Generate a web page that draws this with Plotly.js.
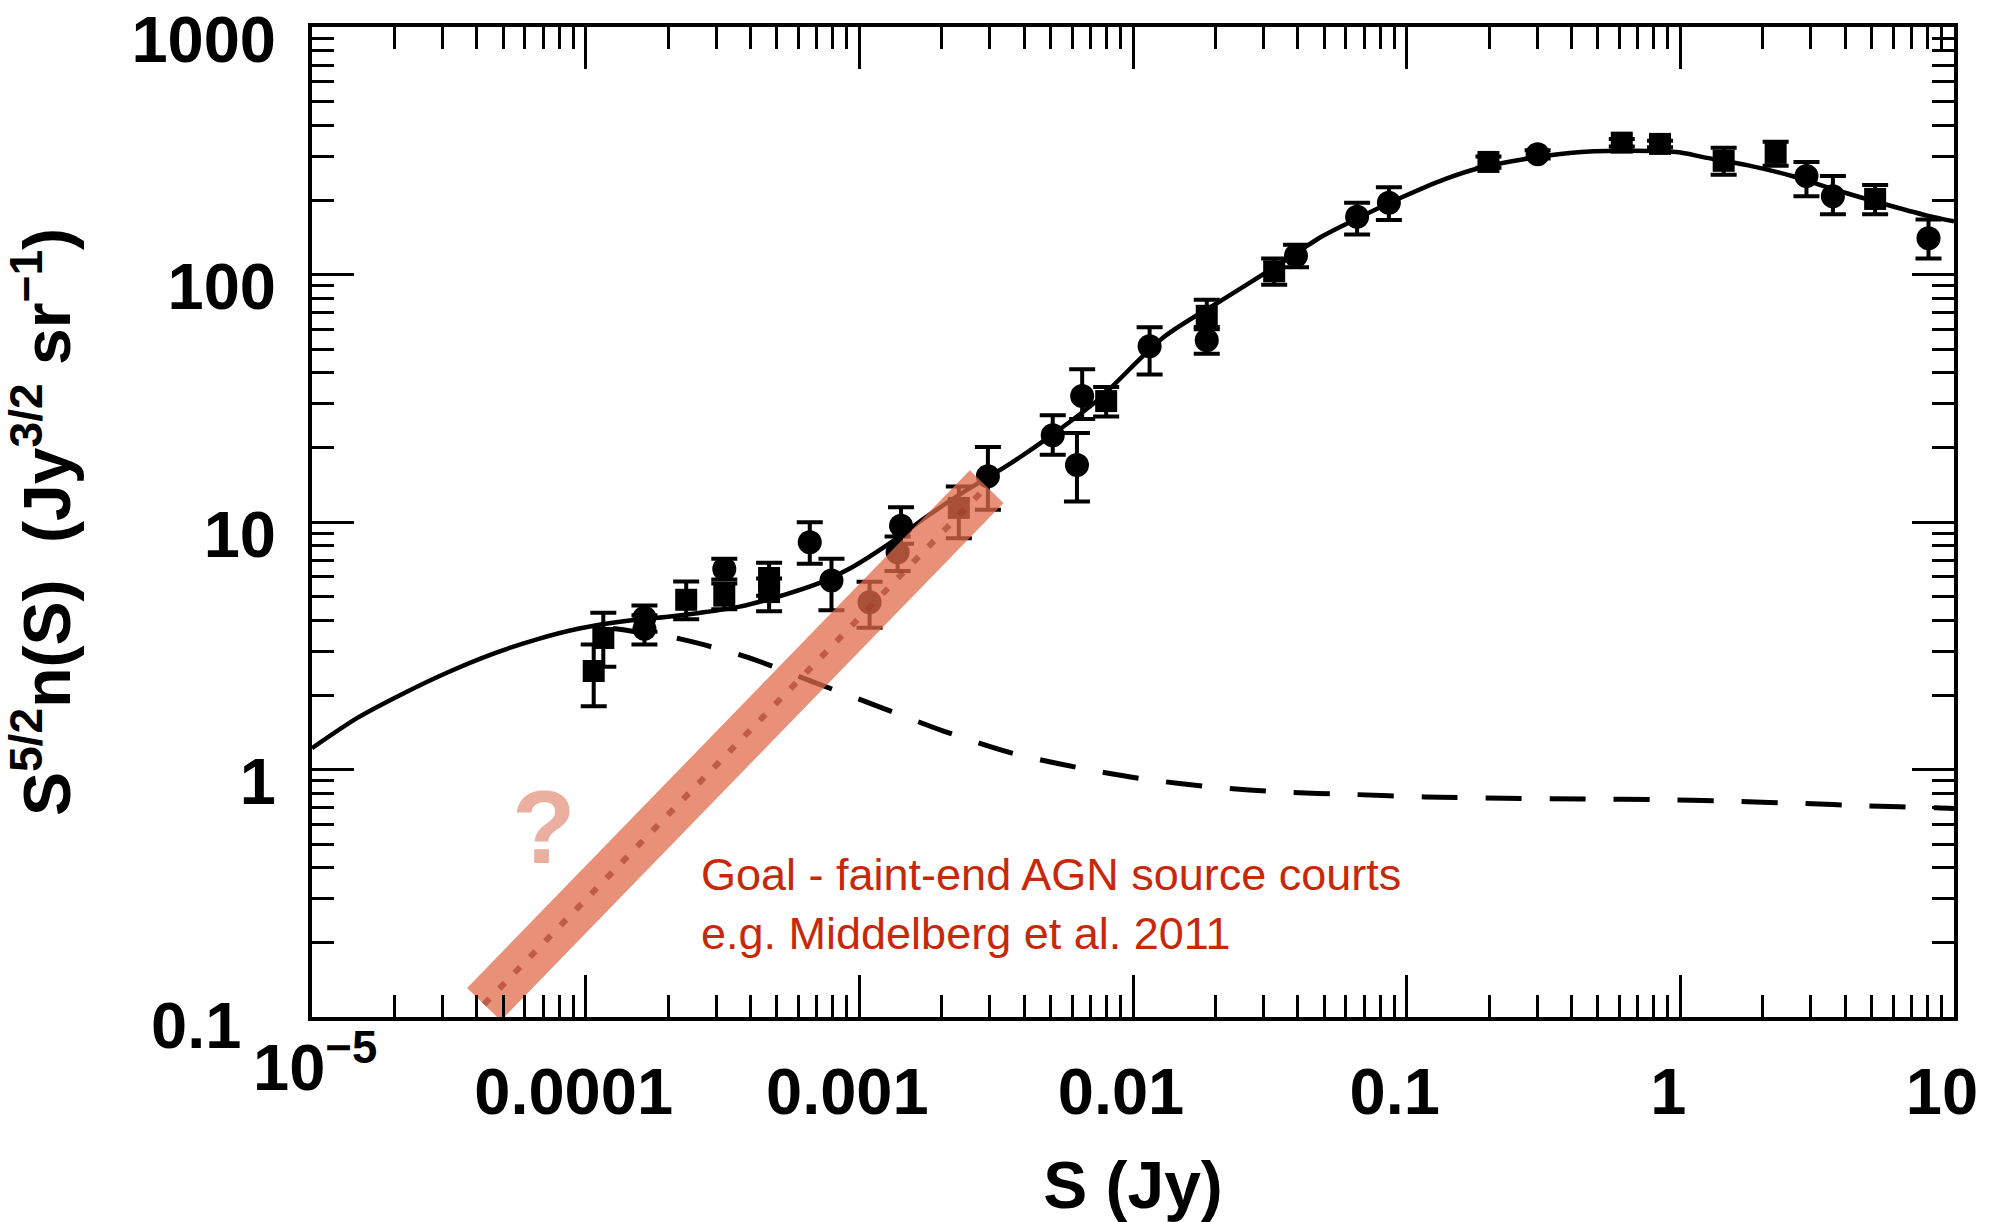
<!DOCTYPE html>
<html>
<head>
<meta charset="utf-8">
<script src="https://cdn.plot.ly/plotly-3.0.1.min.js"></script>
<style>
  html, body { margin:0; padding:0; background:#fff; }
  #chart { width:1994px; height:1222px; }
</style>
</head>
<body>
<div id="chart"></div>
<script>
// ---- Data (S in Jy, S^{5/2} n(S) in Jy^{3/2} sr^-1) ----
// Data points drawn as squares
const sqS    = [1.07e-4, 1.16e-4, 2.33e-4, 3.21e-4, 4.68e-4, 4.68e-4, 2.31e-3, 7.98e-3, 1.86e-2, 3.28e-2, 0.199, 0.611, 0.843, 1.44, 2.23, 5.15];
const sqVal  = [2.50, 3.40, 4.85, 5.04, 5.94, 5.21, 11.4, 30.8, 68.1, 103, 285, 341, 337, 288, 310, 202];
const sqErrUp= [0.7, 0.9, 0.9, 0.6, 0.9, 0.7, 2.5, 4.3, 11, 13, 15, 12, 10, 37, 34, 28];
const sqErrDn= [0.7, 0.8, 0.8, 0.6, 0.9, 0.85, 2.8, 4.1, 8, 12, 15, 12, 10, 35, 35, 27];

// Data points drawn as circles
const ciS    = [1.64e-4, 1.64e-4, 3.21e-4, 6.59e-4, 7.91e-4, 1.09e-3, 1.42e-3, 1.38e-3, 2.95e-3, 5.09e-3, 6.52e-3, 6.24e-3, 1.15e-2, 1.86e-2, 3.94e-2, 6.59e-2, 8.61e-2, 0.301, 2.89, 3.61, 8.07];
const ciVal  = [4.1, 3.7, 6.46, 8.28, 5.80, 4.74, 9.66, 7.54, 15.3, 22.4, 32.3, 17.0, 51.3, 54.3, 119, 171, 195, 306, 250, 207, 140];
const ciErrUp= [0.5, 0.5, 0.65, 1.7, 1.3, 1.0, 1.8, 1.2, 4.8, 4.6, 9.1, 5.9, 9.9, 7, 13, 24, 30, 12, 35, 43, 27];
const ciErrDn= [0.5, 0.5, 0.6, 1.5, 1.4, 1.0, 1.5, 1.2, 4.1, 3.7, 6.2, 4.9, 11.9, 6.5, 12, 26, 29, 12, 43, 32, 24];

// Solid model curve
const modelS   = [1.00e-5, 1.47e-5, 2.14e-5, 3.11e-5, 4.53e-5, 6.59e-5, 9.57e-5, 1.40e-4, 2.00e-4, 2.55e-4, 3.66e-4, 5.35e-4, 7.24e-4, 9.38e-4, 1.27e-3, 1.78e-3, 2.40e-3, 3.50e-3, 5.09e-3, 7.41e-3, 1.30e-2, 2.12e-2, 3.33e-2, 4.88e-2, 6.01e-2, 9.79e-2, 0.138, 0.186, 0.271, 0.394, 0.618, 1.00, 1.21, 1.77, 2.56, 3.78, 5.43, 7.98, 10.0];
const modelVal = [1.22, 1.62, 2.02, 2.46, 2.92, 3.35, 3.72, 3.98, 4.14, 4.28, 4.55, 5.09, 5.70, 6.55, 8.10, 10.6, 13.2, 17.0, 22.6, 31.0, 56.0, 79.0, 108, 142, 160, 207, 243, 270, 293, 310, 316, 311, 298, 276, 250, 218, 194, 173, 164];

// Dashed component curve
const compS   = [1.26e-4, 2.21e-4, 3.94e-4, 6.84e-4, 1.17e-3, 2.03e-3, 3.56e-3, 6.24e-3, 1.10e-2, 1.99e-2, 3.56e-2, 6.31e-2, 0.116, 0.228, 0.448, 0.817, 1.48, 2.68, 4.88, 8.61, 10.0];
const compVal = [3.71, 3.37, 2.83, 2.25, 1.80, 1.43, 1.17, 1.02, 0.915, 0.848, 0.810, 0.793, 0.775, 0.765, 0.760, 0.755, 0.745, 0.730, 0.713, 0.700, 0.695];

// Highlighted "goal" band (faint-end AGN counts)
const goalS   = [4.25e-5, 2.92e-3];
const goalVal = [0.1125, 13.9];

// Axis ticks
const xTickVals = [1e-4, 1e-3, 1e-2, 0.1, 1, 10];
const xTickText = ['0.0001', '0.001', '0.01', '0.1', '1', '10'];
const yTickVals = [1, 10, 100, 1000];
const yTickText = ['1', '10', '100', '1000'];

// Texts
const noteLines = ['Goal - faint-end AGN source courts', 'e.g. Middelberg et al. 2011'];

// ---- minor tick positions (2..9 in every decade) ----
function minorTicks(d0, d1) {
  const out = [];
  for (let d = d0; d < d1; d++) for (let m = 2; m <= 9; m++) out.push(m * Math.pow(10, d));
  return out;
}

const tickFont  = {family: 'Liberation Sans, Arial, sans-serif', size: 65, color: '#000', weight: 'bold'};
const titleFont = {family: 'Liberation Sans, Arial, sans-serif', size: 66, color: '#000', weight: 'bold'};

const errStyle = {type: 'data', symmetric: false, color: '#000', thickness: 4, width: 13};

const traces = [
  {x: modelS, y: modelVal, type: 'scatter', mode: 'lines',
   line: {color: '#000', width: 4.5, shape: 'spline', smoothing: 0.8}, hoverinfo: 'skip'},
  {x: compS, y: compVal, type: 'scatter', mode: 'lines',
   line: {color: '#000', width: 5, dash: '36px,28px', shape: 'spline', smoothing: 0.8}, hoverinfo: 'skip'},
  {x: ciS, y: ciVal, type: 'scatter', mode: 'markers',
   marker: {symbol: 'circle', size: 24, color: '#000'},
   error_y: Object.assign({array: ciErrUp, arrayminus: ciErrDn}, errStyle)},
  {x: sqS, y: sqVal, type: 'scatter', mode: 'markers',
   marker: {symbol: 'square', size: 22, color: '#000'},
   error_y: Object.assign({array: sqErrUp, arrayminus: sqErrDn}, errStyle)},
  {x: goalS, y: goalVal, type: 'scatter', mode: 'lines',
   line: {color: 'rgba(226,108,75,0.75)', width: 47}, hoverinfo: 'skip'},
  {x: goalS, y: goalVal, type: 'scatter', mode: 'lines',
   line: {color: 'rgba(165,55,35,0.6)', width: 6, dash: '8px,14px'}, hoverinfo: 'skip'}
];

// plot area in pixels: x 312..1954, y 27..1017
const L = 312, R = 1954, T = 27, B = 1017;
const px = v => (v - L) / (R - L);
const py = v => (B - v) / (B - T);

const layout = {
  width: 1994, height: 1222,
  margin: {l: L, r: 1994 - R, t: T, b: 1222 - B, pad: 0},
  paper_bgcolor: '#fff', plot_bgcolor: '#fff',
  showlegend: false,
  xaxis: {
    type: 'log', range: [-5, 1], automargin: false,
    showgrid: false, zeroline: false,
    showline: true, linecolor: '#000', linewidth: 4, mirror: 'allticks',
    ticks: 'inside', ticklen: 42, tickwidth: 3, tickcolor: '#000',
    tickmode: 'array', tickvals: xTickVals, ticktext: xTickText,
    tickfont: tickFont, ticklabelstandoff: 15, ticklabelshift: -12, ticklabeloverflow: 'allow',
    minor: {tickmode: 'array', tickvals: minorTicks(-5, 1), ticks: 'inside', ticklen: 22, tickwidth: 3, tickcolor: '#000', showgrid: false},
    title: {text: 'S (Jy)', font: titleFont, standoff: 62}
  },
  yaxis: {
    type: 'log', range: [-1, 3], automargin: false,
    showgrid: false, zeroline: false,
    showline: true, linecolor: '#000', linewidth: 4, mirror: 'allticks',
    ticks: 'inside', ticklen: 42, tickwidth: 3, tickcolor: '#000',
    tickmode: 'array', tickvals: yTickVals, ticktext: yTickText,
    tickfont: tickFont, ticklabelstandoff: 19, ticklabelshift: 12, ticklabeloverflow: 'allow',
    minor: {tickmode: 'array', tickvals: minorTicks(-1, 3), ticks: 'inside', ticklen: 22, tickwidth: 3, tickcolor: '#000', showgrid: false},
    title: {text: 'S<sup>5/2</sup>n(S)\u00a0\u00a0(Jy<sup>3/2</sup> sr<sup>\u22121</sup>)', font: titleFont, standoff: 68}
  },
  annotations: [
    {xref: 'paper', yref: 'paper', x: px(243), y: py(1025), xanchor: 'right', yanchor: 'middle',
     text: '0.1', showarrow: false, font: tickFont},
    {xref: 'paper', yref: 'paper', x: px(251), y: py(1106), xanchor: 'left', yanchor: 'bottom',
     text: '10<sup>\u22125</sup>', showarrow: false, font: tickFont},
    {xref: 'paper', yref: 'paper', x: px(544), y: py(827), xanchor: 'center', yanchor: 'middle',
     text: '?', showarrow: false,
     font: {family: 'Liberation Sans, Arial, sans-serif', size: 104, color: '#EBAFA0', weight: 'bold'}},
    {xref: 'paper', yref: 'paper', x: px(699), y: py(904), xanchor: 'left', yanchor: 'middle', align: 'left',
     text: noteLines.join('<br>'), showarrow: false,
     font: {family: 'Liberation Sans, Arial, sans-serif', size: 45, color: '#C8280A'}}
  ]
};

Plotly.newPlot('chart', traces, layout, {displayModeBar: false, staticPlot: true});
</script>
</body>
</html>
